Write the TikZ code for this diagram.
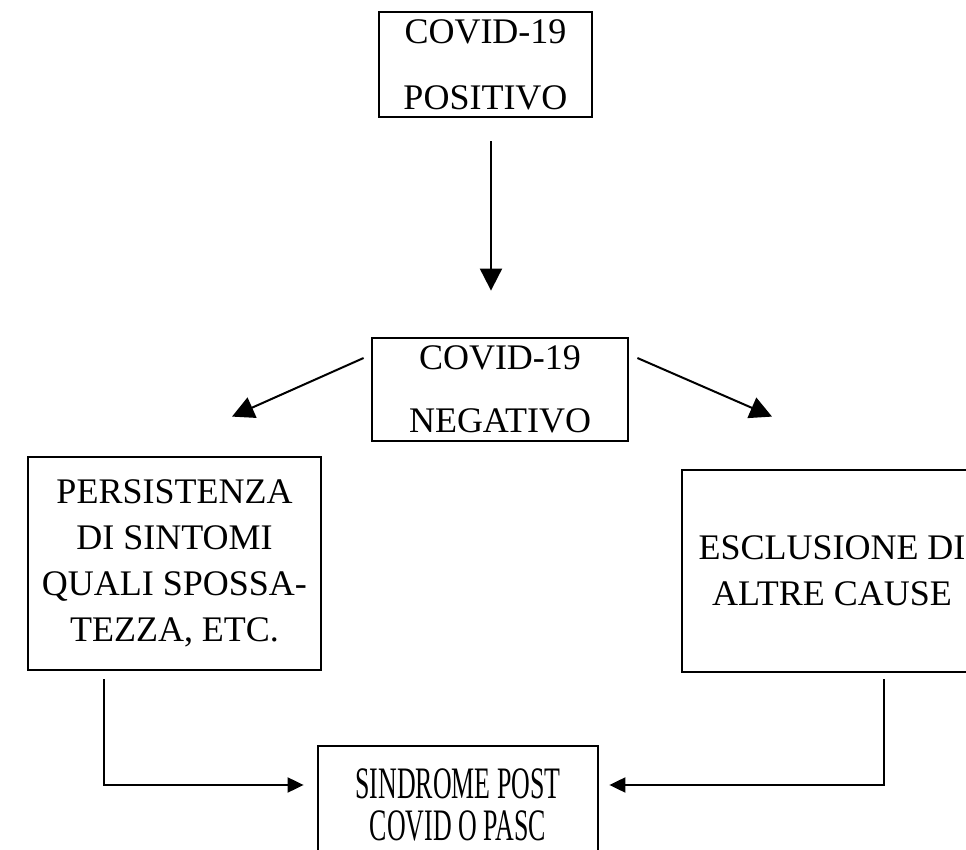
\documentclass[tikz,border=0pt]{standalone}
\usepackage{fontspec}
\setmainfont{Liberation Serif}
\usepackage{graphicx}
\usetikzlibrary{arrows.meta}
\tikzstyle{casebox} = [rectangle, draw=black, line width=1.4pt, inner sep=0pt, align=center, text centered, font=\fontsize{18}{23}\selectfont]
\tikzstyle{arrow} = [line width=1pt, -{Triangle[length=11pt,width=11pt]}]
\tikzstyle{elbow} = [line width=1pt, -{Triangle[length=8pt,width=7.5pt]}]

\begin{document}
\begin{tikzpicture}[x=0.5pt,y=-0.5pt]
\useasboundingbox (0,0) rectangle (966,850);
\clip (0,0) rectangle (966,850);

\node (pos) [casebox, minimum width=106.5pt, minimum height=52.5pt] at (485.5,64.5) {COVID-19\\[10pt]POSITIVO};
\node (neg) [casebox, minimum width=128pt, minimum height=51.5pt] at (500,389.5) {COVID-19\\[8.5pt]NEGATIVO};
\node (sint) [casebox, minimum width=146.5pt, minimum height=106.5pt] at (174.5,563.5) {PERSISTENZA\\DI SINTOMI\\QUALI SPOSSA-\\TEZZA, ETC.};
\node (escl) [casebox, minimum width=150pt, minimum height=101pt] at (832,571) {ESCLUSIONE DI\\ALTRE CAUSE};
\node (pasc) [casebox, font=\fontsize{18}{21}\selectfont, minimum width=140pt, minimum height=59pt] at (458,805) {\scalebox{0.72}[1.25]{SINDROME POST}\\\scalebox{0.72}[1.25]{COVID O PASC}};

\draw [arrow, shorten <=11.5pt, shorten >=23pt] ([xshift=2.75pt]pos.south) -- ([xshift=-4.5pt]neg.north);
\draw [arrow] ([shift={(-3.5pt,15.75pt)}]neg.west) -- ([shift={(28.75pt,19.5pt)}]sint.north);
\draw [arrow] ([shift={(4pt,15.75pt)}]neg.east) -- ([shift={(-30pt,26pt)}]escl.north);
\draw [elbow] ([shift={(-35.25pt,-4pt)}]sint.south) |- ([shift={(-6.5pt,10pt)}]pasc.west);
\draw [elbow] ([shift={(26pt,-3pt)}]escl.south) |- ([shift={(5pt,10pt)}]pasc.east);
\end{tikzpicture}
\end{document}
